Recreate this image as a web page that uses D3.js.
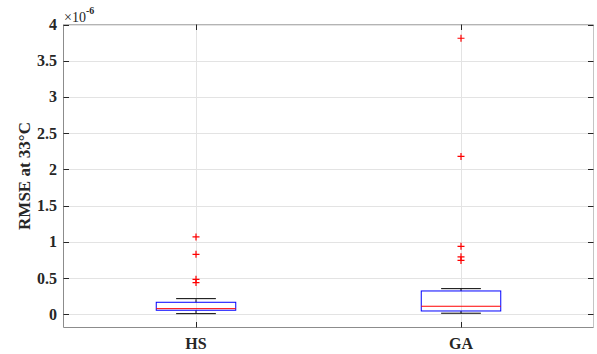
<!DOCTYPE html>
<html>
<head>
<meta charset="utf-8">
<script src="https://cdn.jsdelivr.net/npm/d3@7"></script>
<style>
  html, body { margin: 0; padding: 0; background: #fff; }
  svg { display: block; }
</style>
</head>
<body>
<svg id="chart" width="597" height="354"></svg>
<script>
// ---- data (values in units of 1e-6) ----
const categories = ["HS", "GA"];
const whiskerLow  = [0.011, 0.017];
const q1          = [0.058, 0.048];
const median      = [0.080, 0.113];
const q3          = [0.168, 0.324];
const whiskerHigh = [0.218, 0.356];
const outliersHS  = [1.07, 0.83, 0.485, 0.44];
const outliersGA  = [3.81, 2.18, 0.94, 0.795, 0.745];
const yTicks = [0, 0.5, 1, 1.5, 2, 2.5, 3, 3.5, 4];
const yTickLabels = ["0", "0.5", "1", "1.5", "2", "2.5", "3", "3.5", "4"];
const yLabel = "RMSE at 33°C";

const outliers = [outliersHS, outliersGA];

const svg = d3.select("#chart");
const L = 63.5, R = 593.5, T = 24.5, B = 327.5;

const x = d3.scaleLinear().domain([0.5, 2.5]).range([L, R]);
const y = d3.scaleLinear().domain([-0.18, 4]).range([B, T]);
const boxW = 0.3;
const capW = 0.15;

const serif = "'Liberation Serif', 'Times New Roman', serif";

// grid
const g = svg.append("g");
g.selectAll("line.hg").data(yTicks).enter().append("line")
  .attr("x1", L).attr("x2", R)
  .attr("y1", d => Math.round(y(d)) + 0.5).attr("y2", d => Math.round(y(d)) + 0.5)
  .attr("stroke", "#e3e3e3").attr("stroke-width", 1);
g.selectAll("line.vg").data(categories).enter().append("line")
  .attr("x1", (d, i) => Math.round(x(i + 1)) + 0.5).attr("x2", (d, i) => Math.round(x(i + 1)) + 0.5)
  .attr("y1", T).attr("y2", B)
  .attr("stroke", "#e3e3e3").attr("stroke-width", 1);

// axis frame
svg.append("line").attr("x1", L).attr("x2", R).attr("y1", T).attr("y2", T).attr("stroke", "#b4b4b4");
svg.append("line").attr("x1", R).attr("x2", R).attr("y1", T).attr("y2", B).attr("stroke", "#c4c4c4");
svg.append("line").attr("x1", L).attr("x2", L).attr("y1", T).attr("y2", B).attr("stroke", "#8c8c8c");
svg.append("line").attr("x1", L).attr("x2", R).attr("y1", B).attr("y2", B).attr("stroke", "#8c8c8c");

// y ticks (inside, both sides)
const tk = 5.5;
svg.selectAll("line.ylt").data(yTicks).enter().append("line")
  .attr("x1", L).attr("x2", L + tk)
  .attr("y1", d => Math.round(y(d)) + 0.5).attr("y2", d => Math.round(y(d)) + 0.5)
  .attr("stroke", "#262626");
svg.selectAll("line.yrt").data(yTicks).enter().append("line")
  .attr("x1", R - tk).attr("x2", R)
  .attr("y1", d => Math.round(y(d)) + 0.5).attr("y2", d => Math.round(y(d)) + 0.5)
  .attr("stroke", "#262626");
// x ticks
svg.selectAll("line.xbt").data(categories).enter().append("line")
  .attr("x1", (d, i) => Math.round(x(i + 1)) + 0.5).attr("x2", (d, i) => Math.round(x(i + 1)) + 0.5)
  .attr("y1", B).attr("y2", B - tk).attr("stroke", "#262626");
svg.selectAll("line.xtt").data(categories).enter().append("line")
  .attr("x1", (d, i) => Math.round(x(i + 1)) + 0.5).attr("x2", (d, i) => Math.round(x(i + 1)) + 0.5)
  .attr("y1", T).attr("y2", T + tk).attr("stroke", "#262626");

// y tick labels
svg.selectAll("text.yl").data(yTicks).enter().append("text")
  .attr("x", 57).attr("y", d => y(d)).attr("dy", "0.34em")
  .attr("text-anchor", "end")
  .attr("font-family", serif).attr("font-weight", "bold").attr("font-size", 16)
  .attr("fill", "#262626")
  .text((d, i) => yTickLabels[i]);

// x tick labels
svg.selectAll("text.xl").data(categories).enter().append("text")
  .attr("x", (d, i) => x(i + 1)).attr("y", 349)
  .attr("text-anchor", "middle")
  .attr("font-family", serif).attr("font-weight", "bold").attr("font-size", 16)
  .attr("fill", "#262626")
  .text(d => d);

// y label
svg.append("text")
  .attr("transform", `translate(30, ${(T + B) / 2}) rotate(-90)`)
  .attr("text-anchor", "middle")
  .attr("font-family", serif).attr("font-weight", "bold").attr("font-size", 17)
  .attr("fill", "#262626")
  .text(yLabel);

// exponent
const ex = svg.append("text")
  .attr("x", 64).attr("y", 21.5)
  .attr("font-family", serif).attr("font-size", 14).attr("fill", "#262626");
ex.append("tspan").text("×10");
ex.append("tspan").attr("dy", -8).attr("font-size", 10).attr("font-weight", "bold").text("-6");

// boxes
const bx = svg.append("g");
categories.forEach((c, i) => {
  const cx = x(i + 1);
  const hw = (x(1 + boxW / 2) - x(1));
  const cw = (x(1 + capW / 2) - x(1));
  // whiskers (dashed)
  bx.append("line").attr("x1", cx).attr("x2", cx)
    .attr("y1", y(q3[i])).attr("y2", y(whiskerHigh[i]))
    .attr("stroke", "#000").attr("stroke-dasharray", "3,2");
  bx.append("line").attr("x1", cx).attr("x2", cx)
    .attr("y1", y(q1[i])).attr("y2", y(whiskerLow[i]))
    .attr("stroke", "#000").attr("stroke-dasharray", "3,2");
  // caps
  bx.append("line").attr("x1", cx - cw).attr("x2", cx + cw)
    .attr("y1", y(whiskerHigh[i])).attr("y2", y(whiskerHigh[i])).attr("stroke", "#000");
  bx.append("line").attr("x1", cx - cw).attr("x2", cx + cw)
    .attr("y1", y(whiskerLow[i])).attr("y2", y(whiskerLow[i])).attr("stroke", "#000");
  // box
  bx.append("rect").attr("x", cx - hw).attr("width", 2 * hw)
    .attr("y", y(q3[i])).attr("height", y(q1[i]) - y(q3[i]))
    .attr("fill", "none").attr("stroke", "#0000ff");
  // median
  bx.append("line").attr("x1", cx - hw).attr("x2", cx + hw)
    .attr("y1", y(median[i])).attr("y2", y(median[i])).attr("stroke", "#ff0000");
  // outliers
  outliers[i].forEach(v => {
    const py = y(v);
    bx.append("path")
      .attr("d", `M${cx - 3.5},${py}H${cx + 3.5}M${cx},${py - 3.5}V${py + 3.5}`)
      .attr("stroke", "#ff0000").attr("stroke-width", 1.2).attr("fill", "none");
  });
});
</script>
</body>
</html>
